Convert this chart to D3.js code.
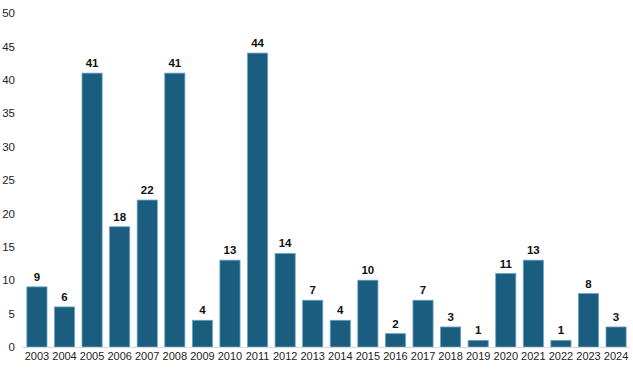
<!DOCTYPE html>
<html>
<head>
<meta charset="utf-8">
<script src="https://cdn.jsdelivr.net/npm/d3@7"></script>
<style>
  body { margin: 0; background: #fff; }
  text { font-family: "Liberation Sans", Arial, sans-serif; }
</style>
</head>
<body>
<svg id="chart" width="633" height="370"></svg>
<script>
// anni e valori
const years = ["2003","2004","2005","2006","2007","2008","2009","2010","2011","2012","2013",
               "2014","2015","2016","2017","2018","2019","2020","2021","2022","2023","2024"];
const counts = [9, 6, 41, 18, 22, 41, 4, 13, 44, 14, 7, 4, 10, 2, 7, 3, 1, 11, 13, 1, 8, 3];
const yTicks = [0, 5, 10, 15, 20, 25, 30, 35, 40, 45, 50];

const width = 633, height = 370;
const margin = {top: 13, right: 3, bottom: 23, left: 23};
const svg = d3.select("#chart");

const x = d3.scaleBand()
    .domain(years)
    .range([margin.left, width - margin.right])
    .paddingInner(0.27)
    .paddingOuter(0.14);

const y = d3.scaleLinear()
    .domain([0, 50])
    .range([height - margin.bottom, margin.top]);

// asse y, solo etichette
svg.append("g")
    .attr("transform", "translate(15,0)")
    .call(d3.axisLeft(y).tickValues(yTicks).tickSize(0).tickPadding(0))
    .call(g => g.select(".domain").remove())
    .selectAll("text")
        .attr("font-size", 11.5)
        .attr("fill", "#222");

// barre
svg.selectAll(".bar")
    .data(counts)
    .enter().append("rect")
        .attr("class", "bar")
        .attr("x", (d, i) => x(years[i]))
        .attr("y", d => y(d))
        .attr("width", x.bandwidth())
        .attr("height", d => y(0) - y(d))
        .attr("fill", "#1b5d7f")
        .attr("stroke", "#6aa6c4")
        .attr("stroke-width", 0.8);

// linea di base
svg.append("line")
    .attr("x1", margin.left - 1)
    .attr("x2", width - margin.right)
    .attr("y1", y(0) + 0.5)
    .attr("y2", y(0) + 0.5)
    .attr("stroke", "#d9d9d9")
    .attr("stroke-width", 1);

// asse x
svg.append("g")
    .attr("transform", "translate(0," + y(0) + ")")
    .call(d3.axisBottom(x).tickSize(0).tickPadding(5))
    .call(g => g.select(".domain").remove())
    .selectAll("text")
        .attr("font-size", 11)
        .attr("fill", "#222");

// etichette valori
svg.selectAll(".label")
    .data(counts)
    .enter().append("text")
        .attr("class", "label")
        .attr("x", (d, i) => x(years[i]) + x.bandwidth() / 2)
        .attr("y", d => y(d) - 6)
        .attr("text-anchor", "middle")
        .attr("font-size", 11.5)
        .attr("font-weight", "bold")
        .attr("fill", "#111")
        .text(d => d);
</script>
</body>
</html>
